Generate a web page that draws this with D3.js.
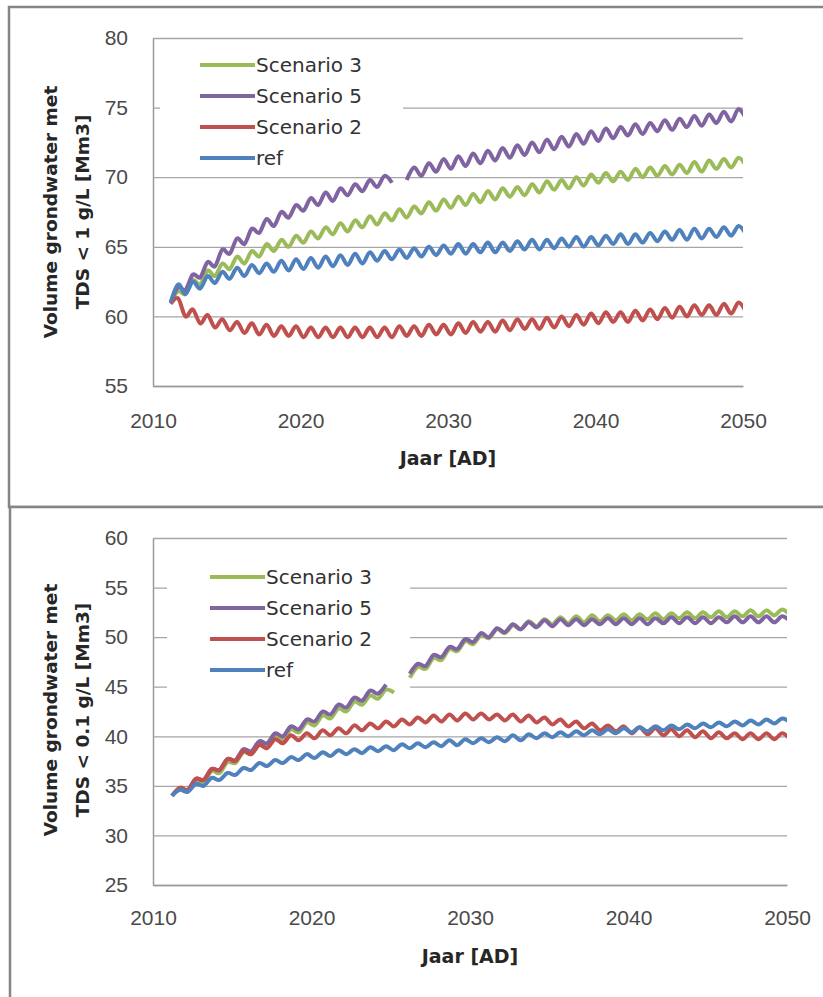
<!DOCTYPE html>
<html>
<head>
<meta charset="utf-8">
<script src="https://cdn.jsdelivr.net/npm/d3@7"></script>
<style>
  body { margin: 0; background: #ffffff; }
  svg { display: block; font-family: "DejaVu Sans", sans-serif; }
</style>
</head>
<body>
<div id="chart"></div>
<script>
// Tijdsas: dalen op jaar + 0.2, toppen op jaar + 0.7
const firstYear = 2011;
const loOffset = 0.2;
const hiOffset = 0.7;

const seriesNames = ["Scenario 3", "Scenario 5", "Scenario 2", "ref"];
const seriesColors = ["#9bbb59", "#8064a2", "#c0504d", "#4f81bd"];

const xTicks = [2010, 2020, 2030, 2040, 2050];
const yTicksTop = [55, 60, 65, 70, 75, 80];
const yTicksBottom = [25, 30, 35, 40, 45, 50, 55, 60];
const xTitle = "Jaar [AD]";
const yTitleTop = ["Volume grondwater met", "TDS < 1 g/L [Mm3]"];
const yTitleBottom = ["Volume grondwater met", "TDS < 0.1 g/L [Mm3]"];

// Bovenste grafiek: TDS < 1 g/L
const s3TopLo = [61.0,61.6,62.3,62.9,63.4,63.8,64.3,64.7,65.0,65.3,65.6,65.9,66.1,66.4,66.6,66.9,67.1,67.4,67.6,67.8,68.0,68.2,68.4,68.6,68.7,68.9,69.1,69.2,69.4,69.6,69.7,69.8,70.0,70.1,70.2,70.3,70.4,70.6,70.7,70.8];
const s3TopHi = [61.8,62.6,63.3,63.8,64.3,64.7,65.2,65.5,65.8,66.1,66.4,66.7,66.9,67.2,67.4,67.7,67.9,68.2,68.4,68.6,68.8,69.0,69.2,69.3,69.5,69.7,69.8,70.0,70.2,70.3,70.4,70.6,70.7,70.8,70.9,71.1,71.2,71.3,71.4];
const s5TopLo = [61.0,61.9,62.8,63.6,64.5,65.2,66.0,66.5,67.1,67.6,68.0,68.3,68.7,69.0,69.3,69.6,69.8,70.1,70.4,70.6,70.8,71.0,71.2,71.4,71.6,71.8,72.0,72.2,72.4,72.6,72.8,73.0,73.1,73.3,73.4,73.6,73.7,73.9,74.0,74.2];
const s5TopHi = [62.1,63.0,63.9,64.8,65.6,66.3,67.0,67.5,68.0,68.5,68.9,69.2,69.5,69.8,70.1,null,70.7,71.0,71.3,71.5,71.7,71.9,72.1,72.3,72.5,72.7,72.9,73.1,73.3,73.5,73.6,73.8,73.9,74.1,74.2,74.4,74.5,74.7,74.9];
const s2TopLo = [60.9,60.0,59.5,59.2,59.0,58.8,58.7,58.6,58.6,58.5,58.5,58.5,58.5,58.5,58.5,58.5,58.6,58.6,58.7,58.7,58.8,58.9,58.9,59.0,59.1,59.1,59.2,59.3,59.4,59.5,59.6,59.6,59.7,59.8,59.9,60.0,60.1,60.1,60.2,60.3];
const s2TopHi = [61.3,60.5,60.1,59.8,59.6,59.5,59.4,59.3,59.3,59.2,59.2,59.2,59.2,59.2,59.2,59.3,59.3,59.4,59.4,59.5,59.6,59.6,59.7,59.8,59.8,59.9,60.0,60.1,60.2,60.3,60.3,60.4,60.5,60.6,60.7,60.8,60.8,60.9,61.0];
const refTopLo = [61.0,61.6,62.0,62.4,62.7,62.9,63.1,63.2,63.3,63.4,63.5,63.6,63.7,63.8,64.0,64.1,64.2,64.3,64.4,64.5,64.5,64.6,64.6,64.7,64.8,64.8,64.9,65.0,65.0,65.1,65.2,65.2,65.3,65.4,65.5,65.5,65.6,65.7,65.8,65.9];
const refTopHi = [62.3,62.5,62.9,63.2,63.5,63.7,63.8,64.0,64.1,64.2,64.3,64.4,64.5,64.6,64.7,64.8,64.9,65.0,65.1,65.2,65.2,65.3,65.3,65.4,65.5,65.5,65.6,65.7,65.7,65.8,65.9,65.9,66.0,66.1,66.2,66.3,66.3,66.4,66.5];

// Onderste grafiek: TDS < 0.1 g/L
const s3BotLo = [34.0,34.5,35.4,36.3,37.3,38.2,39.0,39.7,40.4,41.1,41.8,42.5,43.2,43.8,44.4,45.9,46.8,47.7,48.6,49.3,49.9,50.4,50.8,51.1,51.3,51.4,51.5,51.6,51.7,51.7,51.8,51.8,51.9,51.9,52.0,52.0,52.1,52.1,52.2,52.2];
const s3BotHi = [34.7,35.6,36.5,37.4,38.4,39.2,40.0,40.7,41.4,42.1,42.8,43.5,44.1,44.7,null,47.0,47.9,48.8,49.6,50.2,50.8,51.2,51.6,51.8,52.0,52.1,52.2,52.2,52.3,52.3,52.4,52.4,52.5,52.5,52.6,52.6,52.7,52.7,52.8];
const s5BotLo = [34.0,34.6,35.6,36.6,37.6,38.5,39.3,40.0,40.7,41.5,42.2,42.9,43.6,44.3,null,46.3,47.1,48.0,48.8,49.5,50.0,50.5,50.8,51.0,51.1,51.2,51.2,51.3,51.3,51.3,51.3,51.4,51.4,51.4,51.4,51.5,51.5,51.5,51.5,51.6];
const s5BotHi = [34.8,35.7,36.7,37.7,38.7,39.5,40.3,41.0,41.7,42.5,43.2,43.9,44.6,45.2,null,47.3,48.2,49.0,49.8,50.4,50.9,51.3,51.5,51.7,51.8,51.8,51.8,51.9,51.9,51.9,51.9,52.0,52.0,52.0,52.0,52.1,52.1,52.1,52.1];
const s2BotLo = [34.0,34.6,35.6,36.6,37.5,38.2,38.8,39.3,39.6,39.8,40.1,40.3,40.6,40.8,41.0,41.2,41.4,41.5,41.6,41.7,41.7,41.6,41.5,41.4,41.2,41.0,40.8,40.6,40.5,40.3,40.2,40.1,40.0,39.9,39.8,39.8,39.7,39.7,39.7,39.7];
const s2BotHi = [34.8,35.7,36.7,37.7,38.5,39.1,39.7,40.1,40.3,40.6,40.8,41.1,41.3,41.5,41.7,41.9,42.1,42.2,42.3,42.3,42.2,42.2,42.1,41.9,41.7,41.5,41.3,41.1,41.0,40.9,40.8,40.7,40.6,40.5,40.4,40.3,40.3,40.3,40.3];
const refBotLo = [34.0,34.4,35.0,35.6,36.1,36.6,37.0,37.3,37.6,37.8,38.0,38.2,38.3,38.5,38.6,38.8,38.9,39.0,39.1,39.3,39.4,39.5,39.6,39.8,39.9,40.0,40.1,40.2,40.3,40.4,40.5,40.6,40.7,40.8,40.9,41.0,41.1,41.2,41.3,41.4];
const refBotHi = [34.6,35.2,35.8,36.3,36.8,37.3,37.6,37.9,38.2,38.4,38.6,38.7,38.9,39.0,39.2,39.3,39.4,39.6,39.7,39.8,39.9,40.1,40.2,40.3,40.4,40.5,40.6,40.7,40.8,40.9,41.0,41.1,41.2,41.3,41.4,41.5,41.6,41.7,41.8];

// dalen en toppen afwisselend samenvoegen tot één reeks punten
function toPoints(lo, hi) {
    var pts = [];
    lo.forEach(function(v, i) {
        pts.push({ t: firstYear + i + loOffset, v: v });
        if (i < hi.length) pts.push({ t: firstYear + i + hiOffset, v: hi[i] });
    });
    return pts;
}

var svg = d3.select("#chart").append("svg")
    .attr("width", 823)
    .attr("height", 997);

svg.append("rect").attr("width", 823).attr("height", 997).attr("fill", "#ffffff");

function drawPanel(cfg) {
    var g = svg.append("g");

    // kader van het paneel
    g.append("rect")
        .attr("x", cfg.frame[0]).attr("y", cfg.frame[1])
        .attr("width", 840).attr("height", 500)
        .attr("fill", "#ffffff")
        .attr("stroke", "#858585")
        .attr("stroke-width", 2.5);

    var x = d3.scaleLinear().domain([xTicks[0], xTicks[xTicks.length - 1]]).range([cfg.left, cfg.right]);
    var y = d3.scaleLinear().domain([cfg.yTicks[0], cfg.yTicks[cfg.yTicks.length - 1]]).range([cfg.bottom, cfg.top]);

    // y-as met rasterlijnen
    var yAxis = g.append("g")
        .attr("transform", `translate(${cfg.left},0)`)
        .call(d3.axisLeft(y).tickValues(cfg.yTicks).tickSize(-(cfg.right - cfg.left)).tickSizeOuter(0).tickPadding(25));
    yAxis.select(".domain").attr("stroke", "#9a9a9a").attr("stroke-width", 1.5);
    yAxis.selectAll(".tick line").attr("stroke", "#a6a6a6").attr("stroke-width", 1.3);
    yAxis.selectAll(".tick text")
        .style("font-size", "21px")
        .attr("fill", "#4a4a4a");

    // x-as
    var xAxis = g.append("g")
        .attr("transform", `translate(0,${cfg.bottom})`)
        .call(d3.axisBottom(x).tickValues(xTicks).tickSize(0).tickPadding(cfg.xPad).tickFormat(d3.format("d")));
    xAxis.select(".domain").attr("stroke", "#9a9a9a").attr("stroke-width", 1.5);
    xAxis.selectAll(".tick text")
        .style("font-size", "21px")
        .attr("fill", "#4a4a4a");

    // witte achtergrond van de legenda (ligt over het raster)
    g.append("rect")
        .attr("x", cfg.legendBox[0]).attr("y", cfg.legendBox[1])
        .attr("width", cfg.legendBox[2]).attr("height", cfg.legendBox[3])
        .attr("fill", "#ffffff");

    // clip zodat de lijnen niet voorbij 2050 lopen
    g.append("clipPath").attr("id", "clip" + cfg.id)
        .append("rect")
        .attr("x", cfg.left).attr("y", cfg.top - 10)
        .attr("width", cfg.right - cfg.left).attr("height", cfg.bottom - cfg.top + 10);

    var line = d3.line()
        .defined(d => d.v !== null)
        .x(d => x(d.t))
        .y(d => y(d.v))
        .curve(d3.curveCardinal);

    g.append("g")
        .attr("clip-path", `url(#clip${cfg.id})`)
        .selectAll("path")
        .data(cfg.series)
        .enter().append("path")
        .attr("d", d => line(toPoints(d[0], d[1])))
        .attr("fill", "none")
        .attr("stroke", (d, i) => seriesColors[i])
        .attr("stroke-width", 4)
        .attr("stroke-linejoin", "round");

    // legenda
    var legend = g.selectAll(".legendItem")
        .data(seriesNames)
        .enter().append("g")
        .attr("class", "legendItem")
        .attr("transform", (d, i) => `translate(${cfg.legendX},${cfg.legendY + i * 31})`);

    legend.append("line")
        .attr("x1", 0).attr("x2", 55)
        .attr("stroke", (d, i) => seriesColors[i])
        .attr("stroke-width", 4);

    legend.append("text")
        .attr("x", 56)
        .attr("dy", "0.36em")
        .style("font-size", "20px")
        .attr("fill", "#333333")
        .text(d => d);

    // astitels
    g.append("text")
        .attr("x", (cfg.left + cfg.right) / 2)
        .attr("y", cfg.xTitleY)
        .attr("text-anchor", "middle")
        .style("font-size", "19px")
        .style("font-weight", "bold")
        .attr("fill", "#262626")
        .text(xTitle);

    g.selectAll(".yTitle")
        .data(cfg.yTitle)
        .enter().append("text")
        .attr("class", "yTitle")
        .attr("transform", (d, i) => `translate(${57 + i * 32},${cfg.yTitleY}) rotate(-90)`)
        .attr("text-anchor", "middle")
        .style("font-size", "18.5px")
        .style("font-weight", "bold")
        .attr("fill", "#262626")
        .text(d => d);
}

drawPanel({
    id: "top",
    frame: [9, 7],
    left: 153, right: 743, top: 38, bottom: 386,
    yTicks: yTicksTop,
    xPad: 27,
    legendBox: [160, 45, 243, 127],
    legendX: 200, legendY: 65,
    xTitleY: 465,
    yTitle: yTitleTop, yTitleY: 212,
    series: [[s3TopLo, s3TopHi], [s5TopLo, s5TopHi], [s2TopLo, s2TopHi], [refTopLo, refTopHi]]
});

drawPanel({
    id: "bottom",
    frame: [10, 507],
    left: 153, right: 787, top: 538, bottom: 885,
    yTicks: yTicksBottom,
    xPad: 25,
    legendBox: [167, 552, 243, 137],
    legendX: 210, legendY: 577,
    xTitleY: 963,
    yTitle: yTitleBottom, yTitleY: 710,
    series: [[s3BotLo, s3BotHi], [s5BotLo, s5BotHi], [s2BotLo, s2BotHi], [refBotLo, refBotHi]]
});
</script>
</body>
</html>
